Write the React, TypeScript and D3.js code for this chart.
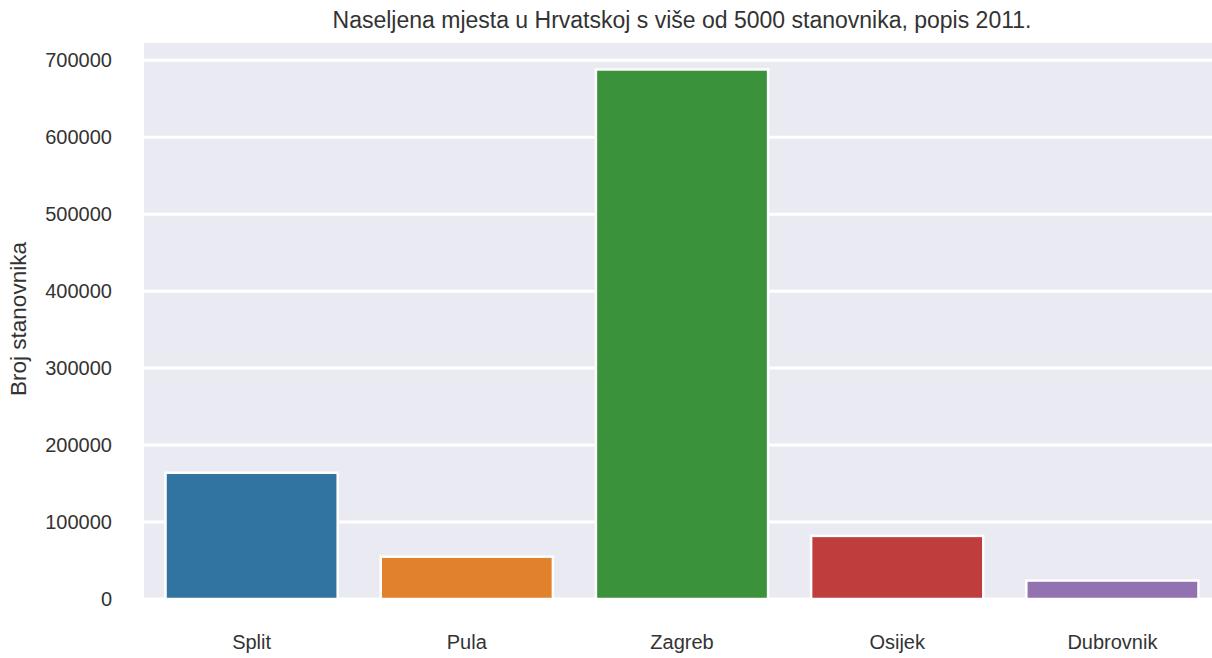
import React from "react";
import * as d3 from "d3";

const cities = ["Split", "Pula", "Zagreb", "Osijek", "Dubrovnik"];
const population = [164000, 55000, 688000, 82000, 24000];
const colors = ["#3274a1", "#e1812c", "#3a923a", "#c03d3e", "#9372b2"];
const yTicks = [0, 100000, 200000, 300000, 400000, 500000, 600000, 700000];
const title = "Naseljena mjesta u Hrvatskoj s više od 5000 stanovnika, popis 2011.";
const yLabel = "Broj stanovnika";

export default function App() {
  const W = 1212, H = 658;
  const left = 144, right = 1220, top = 43, bottom = 599;
  const x = d3.scaleBand<string>().domain(cities).range([left, right]).padding(0);
  const yMax = (d3.max(population) as number) * 1.05;
  const y = d3.scaleLinear().domain([0, yMax]).range([bottom, top]);
  const bw = x.bandwidth() * 0.8;
  const font = "'Liberation Sans', Arial, sans-serif";
  return (
    <svg width={W} height={H} style={{ position: "absolute", left: 0, top: 0 }} fontFamily={font}>
      <rect x={0} y={0} width={W} height={H} fill="#fff" />
      <rect x={left} y={top} width={right - left} height={bottom - top} fill="#eaeaf2" />
      {yTicks.map((t) => (
        <line key={t} x1={left} x2={right} y1={y(t)} y2={y(t)} stroke="#fff" strokeWidth={3} />
      ))}
      {cities.map((c, i) => (
        <rect
          key={c}
          x={(x(c) as number) + (x.bandwidth() - bw) / 2}
          y={y(population[i])}
          width={bw}
          height={y(0) - y(population[i])}
          fill={colors[i]}
          stroke="#fff"
          strokeWidth={2.5}
        />
      ))}
      {yTicks.map((t) => (
        <text key={t} x={112} y={y(t)} dy="0.35em" textAnchor="end" fontSize={20} fill="#333">
          {t}
        </text>
      ))}
      {cities.map((c) => (
        <text key={c} x={(x(c) as number) + x.bandwidth() / 2} y={642} dy="0.35em" textAnchor="middle" fontSize={20} fill="#333">
          {c}
        </text>
      ))}
      <text x={(left + right) / 2} y={20} dy="0.35em" textAnchor="middle" fontSize={23} fill="#333">
        {title}
      </text>
      <text transform={`translate(18, 319) rotate(-90)`} dy="0.35em" textAnchor="middle" fontSize={22.5} fill="#333">
        {yLabel}
      </text>
    </svg>
  );
}
